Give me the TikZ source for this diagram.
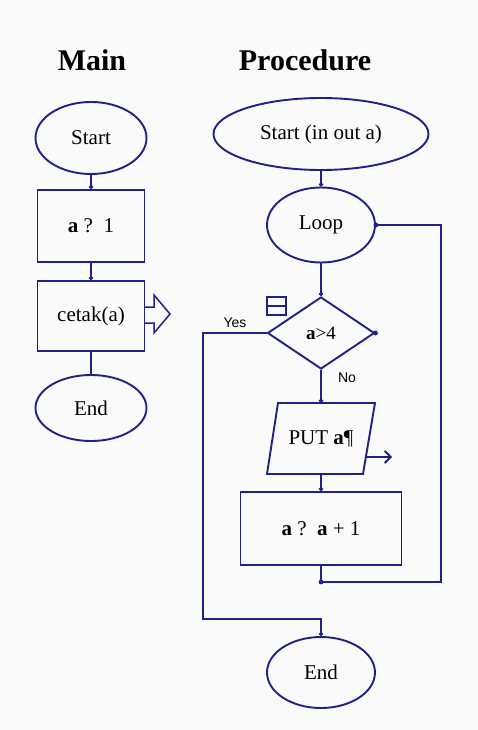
\documentclass[tikz,border=0pt]{standalone}
\usepackage{fontspec}
\setmainfont{Liberation Serif}
\newfontfamily\labelfont{Liberation Sans}
\usetikzlibrary{shapes.geometric,arrows.meta}
\definecolor{flowblue}{RGB}{32,32,135}
\definecolor{paper}{RGB}{250,250,250}

\begin{document}
\begin{tikzpicture}[x=1pt,y=-1pt,
  every node/.style={font=\fontsize{21}{24}\selectfont},
  terminal/.style={draw=flowblue,line width=1.9pt,ellipse,inner sep=0pt},
  box/.style={draw=flowblue,line width=1.9pt,rectangle,inner sep=0pt},
  decision/.style={draw=flowblue,line width=1.9pt,diamond,inner sep=0pt},
  flow/.style={draw=flowblue,line width=1.9pt},
  link/.style={flow,-{Circle[length=4pt]}},
  title/.style={font=\fontsize{30}{34}\selectfont\bfseries},
  tag/.style={font=\fontsize{14}{16}\selectfont\labelfont}]
\fill[paper] (0,0) rectangle (478,730);
\useasboundingbox (0,0) rectangle (478,730);

% main
\node[title] (maintitle) at (92,60) {Main};
\node[terminal,minimum width=111,minimum height=72] (mstart) at (91,138) {Start};
\node[box,minimum width=107,minimum height=72] (assign) at (91,226) {\textbf{a} ?\ \ 1};
\node[box,minimum width=107,minimum height=70] (print) at (91,316) {cetak(a)};
\node[terminal,minimum width=111,minimum height=66] (mend) at (91,408) {End};

\draw[link] (mstart) -- (assign);
\draw[link] (assign) -- (print);
\draw[flow] (print) -- (mend);
\draw[flow,line width=1.5pt] (145,307) -- (154,307) -- (154,295) -- (170,314)
  -- (154,333) -- (154,323) -- (145,323);

% procedure
\node[title] (proctitle) at (305,60) {Procedure};
\node[terminal,minimum width=215,minimum height=72] (pstart) at (321,134) {Start (in out a)};
\node[terminal,minimum width=108,minimum height=75] (loop) at (321,225) {Loop};
\node[decision,minimum width=107,minimum height=72] (test) at (321,333)
  {\fontsize{19}{22}\selectfont\textbf{a}>4};
\node[minimum width=97,minimum height=71,inner sep=0pt] (put) at (321,438.5) {PUT \textbf{a}¶};
\draw[flow] (278,403) -- (375,403) -- (363,474) -- (267,474) -- cycle;
\node[box,minimum width=161,minimum height=73] (inc) at (321,528.5) {\textbf{a} ?\ \ \textbf{a} + 1};
\node[terminal,minimum width=108,minimum height=71] (pend) at (321,672.5) {End};

\node[tag] (yes) at (235,323) {Yes};
\node[tag] (no) at (347,378) {No};
\draw[flow,line width=1.5pt] (267,297) rectangle (286,315);
\draw[flow,line width=1.5pt] (267,306) -- (286,306);

\coordinate (backturn) at (441,582);
\coordinate (yesturn) at (203,619);
\coordinate (outfoot) at (366,457);
\coordinate (outtip) at (392,457);

\draw[link] (pstart) -- (loop);
\draw[link] (loop) -- (test);
\draw[link] (test) -- (put.north);
\draw[link] (put.south) -- (inc);
\draw[flow] (inc.south) |- (backturn) |- (loop.east);
\draw[link] (test.west) -| (yesturn) -| (pend.north);
\draw[flow,-{Straight Barb[length=6pt,width=12pt]}] (outfoot) -- (outtip);
\fill[flowblue] (loop.east) circle (2.4);
\fill[flowblue] (test.east) circle (2.4);
\fill[flowblue] (inc.south |- backturn) circle (2.4);
\end{tikzpicture}
\end{document}
